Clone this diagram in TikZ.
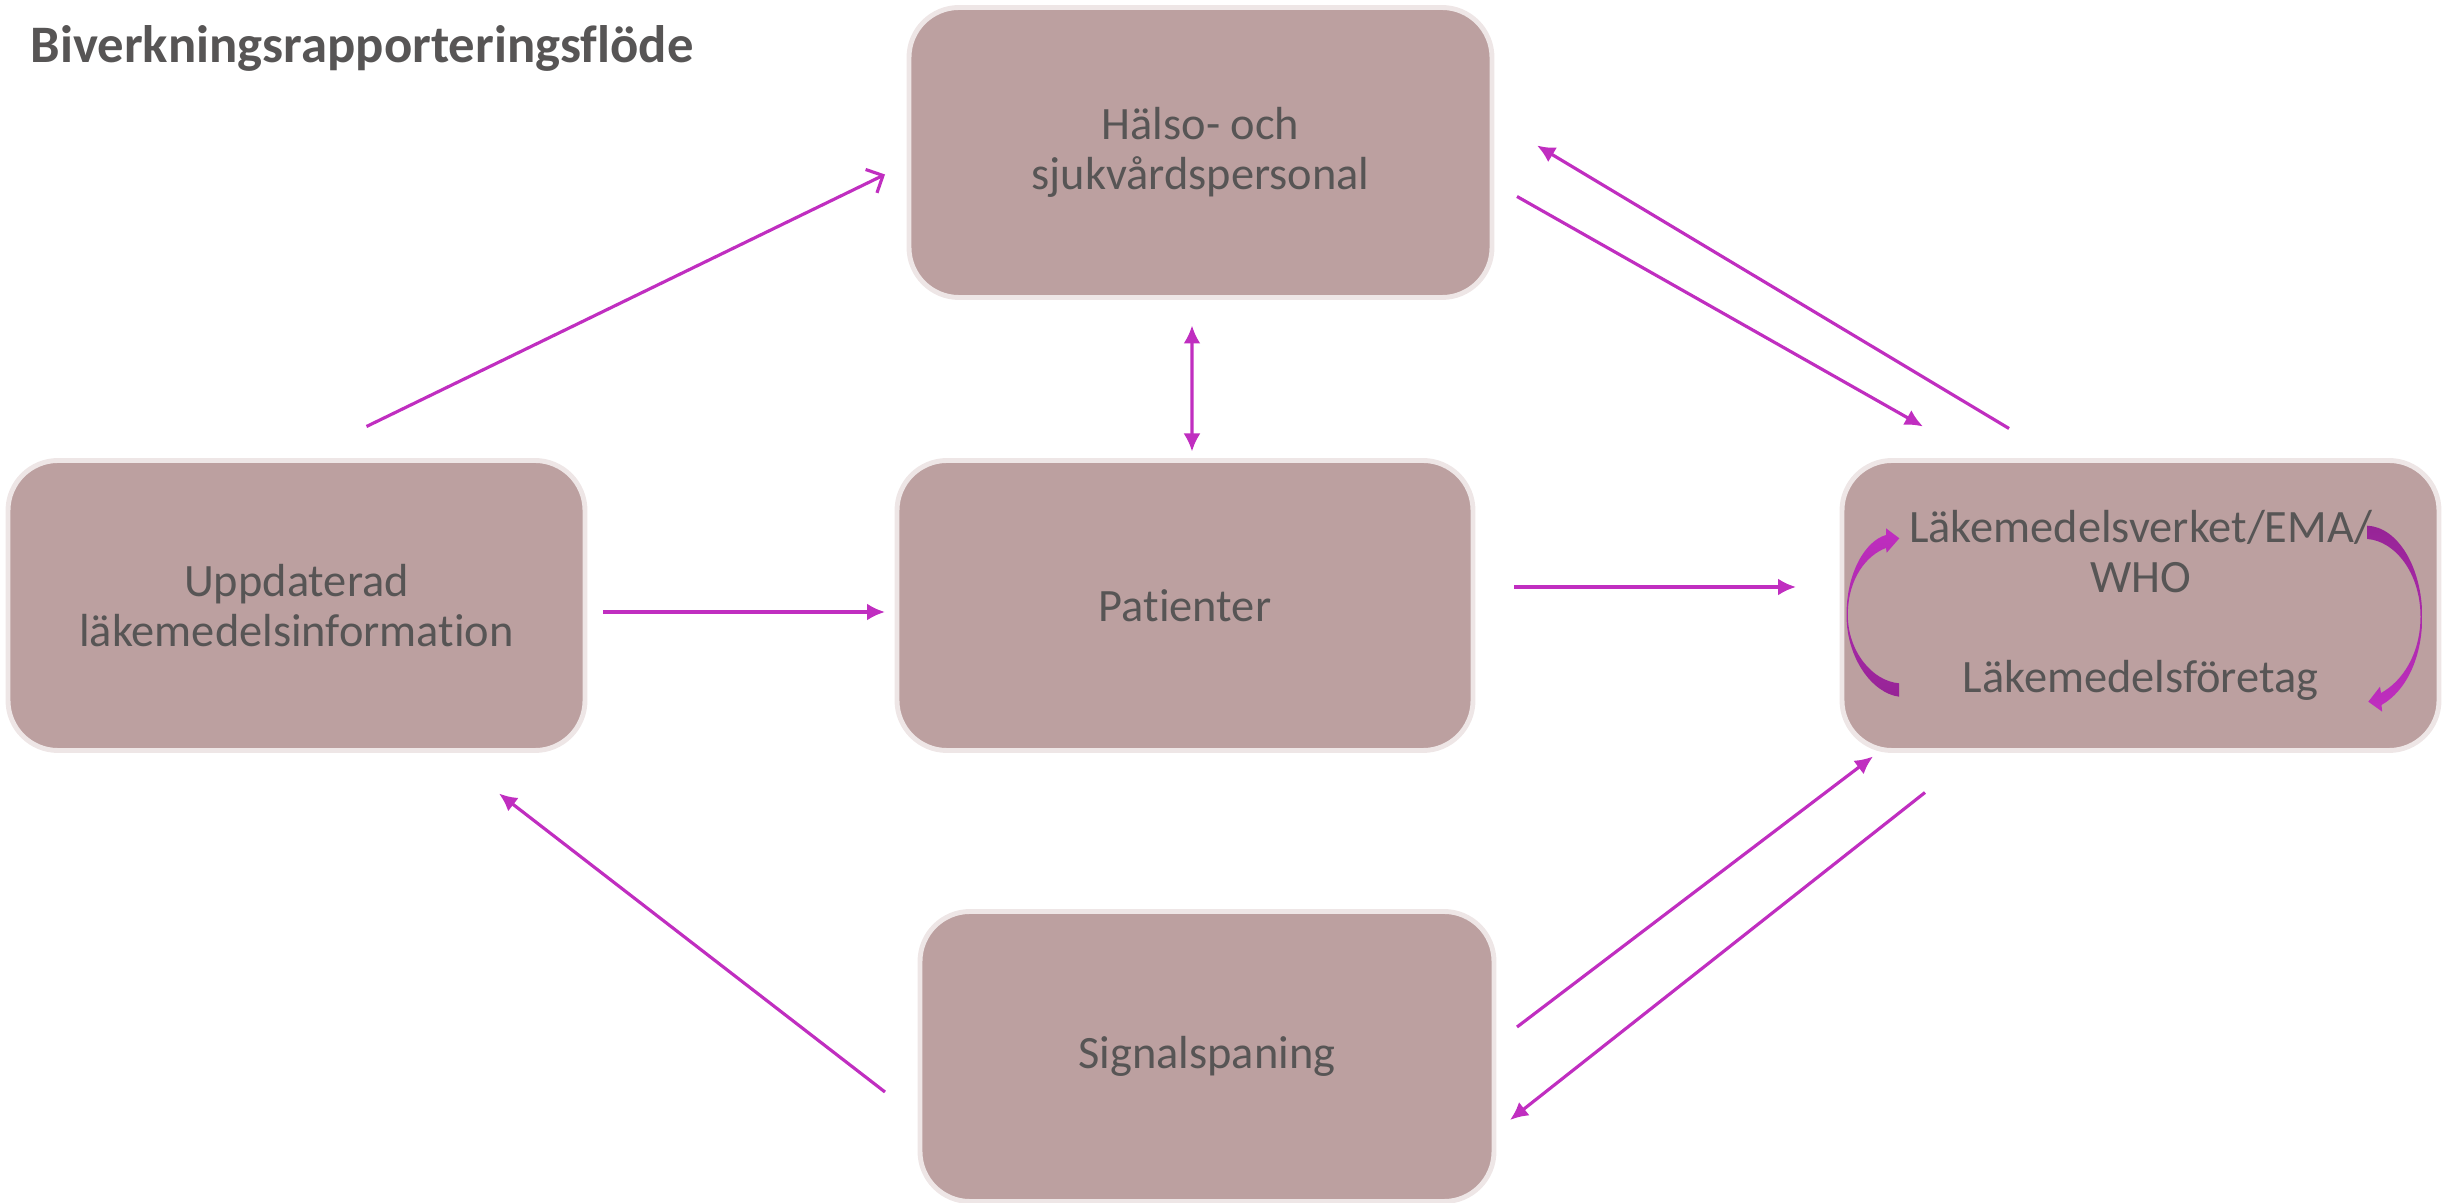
\documentclass[tikz,border=0pt]{standalone}
\usepackage{fontspec}
\setmainfont{Carlito}[Ligatures=NoCommon]
\usepackage{tikz}
\usetikzlibrary{positioning, arrows.meta}
\definecolor{boxfill}{RGB}{188,160,160}
\definecolor{boxglow}{RGB}{238,230,230}
\definecolor{textgray}{RGB}{87,85,85}
\definecolor{flowmag}{RGB}{192,46,192}
\definecolor{flowdark}{RGB}{150,36,150}

\begin{document}
\begin{tikzpicture}[font=\fontsize{13.2}{14.2}\selectfont,
    box/.style={rectangle, rounded corners=0.5cm, fill=boxfill, draw=boxglow,
                line width=1.4pt, text=textgray, align=center,
                minimum height=2.9cm, inner sep=0pt, outer sep=0pt},
    flow/.style={draw=flowmag, line width=0.9pt,
                 >={Latex[length=0.18cm,width=0.17cm]}}]
    \useasboundingbox (0,0) rectangle (24.55,12.03);
    % Add the boxes
        \node[box,
              minimum width=5.76cm
              ] (pat) at (11.85,5.975) {Patienter};
        \node[box,
              minimum width=5.77cm,
              left=3.12cm of pat
              ] (upd) {Uppdaterad\\läkemedelsinformation};
        \node[box,
              minimum width=5.97cm,
              right=3.69cm of pat
              ] (lv) {Läkemedelsverket/EMA/\\WHO\\[14.2pt]Läkemedelsföretag};
        \node[box,
              minimum width=5.83cm,
              above=1.63cm of pat,
              xshift=0.155cm
              ] (hs) {Hälso- och\\sjukvårdspersonal};
        \node[box,
              minimum width=5.74cm,
              below=1.61cm of pat,
              xshift=0.22cm
              ] (sig) {Signalspaning};
        \node[anchor=base west,
              inner sep=0pt,
              text=textgray,
              font=\fontsize{15}{18}\selectfont\bfseries
              ] (title) at (0.30,11.40) {Biverkningsrapporteringsflöde};

    % connectors
        \draw[flow, -{Straight Barb[length=0.13cm,width=0.26cm]}]
            ([xshift=0.7cm,yshift=0.34cm]upd.north) -- ([xshift=-0.24cm,yshift=-0.22cm]hs.west);
        \draw[flow,<->]
            ([xshift=-0.085cm,yshift=-0.28cm]hs.south) -- ([xshift=0.07cm,yshift=0.09cm]pat.north);
        \draw[flow,->]
            ([xshift=0.18cm,yshift=-0.065cm]upd.east) -- ([xshift=-0.12cm,yshift=-0.065cm]pat.west);
        \draw[flow,->]
            ([xshift=0.41cm,yshift=0.185cm]pat.east) -- ([xshift=-0.46cm,yshift=0.185cm]lv.west);
        \draw[flow,->]
            ([xshift=0.25cm,yshift=-0.44cm]hs.east) -- ([xshift=0.81cm,yshift=0.34cm]lv.north west);
        \draw[flow,->]
            ([xshift=1.67cm,yshift=0.32cm]lv.north west) -- ([xshift=0.45cm,yshift=0.07cm]hs.east);
        \draw[flow,->]
            ([xshift=0.23cm,yshift=0.295cm]sig.east) -- ([xshift=0.31cm,yshift=-0.06cm]lv.south west);
        \draw[flow,->]
            ([xshift=0.83cm,yshift=-0.42cm]lv.south west) -- ([xshift=0.16cm,yshift=-0.635cm]sig.east);
        \draw[flow,->]
            ([xshift=-0.35cm,yshift=-0.355cm]sig.west) -- ([xshift=-0.86cm,yshift=-0.43cm]upd.south east);

    % curved arrows inside lv
        \shade[top color=flowmag, bottom color=flowdark]
            (18.99,5.063) .. controls (18.72,5.10) and (18.465,5.45) .. (18.465,5.88)
            .. controls (18.465,6.30) and (18.65,6.62) .. (18.86,6.68)
            -- (18.86,6.747) -- (18.993,6.647) -- (18.867,6.503) -- (18.86,6.55)
            .. controls (18.67,6.48) and (18.478,6.25) .. (18.478,5.88)
            .. controls (18.478,5.52) and (18.72,5.22) .. (18.99,5.197) -- cycle;
        \shade[top color=flowdark, bottom color=flowmag]
            (23.673,6.773) .. controls (23.98,6.76) and (24.222,6.35) .. (24.222,5.863)
            .. controls (24.222,5.45) and (24.06,5.12) .. (23.815,4.98)
            -- (23.822,4.913) -- (23.683,5.013) -- (23.80,5.163) -- (23.81,5.10)
            .. controls (24.03,5.22) and (24.205,5.50) .. (24.205,5.863)
            .. controls (24.205,6.30) and (23.95,6.62) .. (23.673,6.64) -- cycle;
\end{tikzpicture}
\end{document}
